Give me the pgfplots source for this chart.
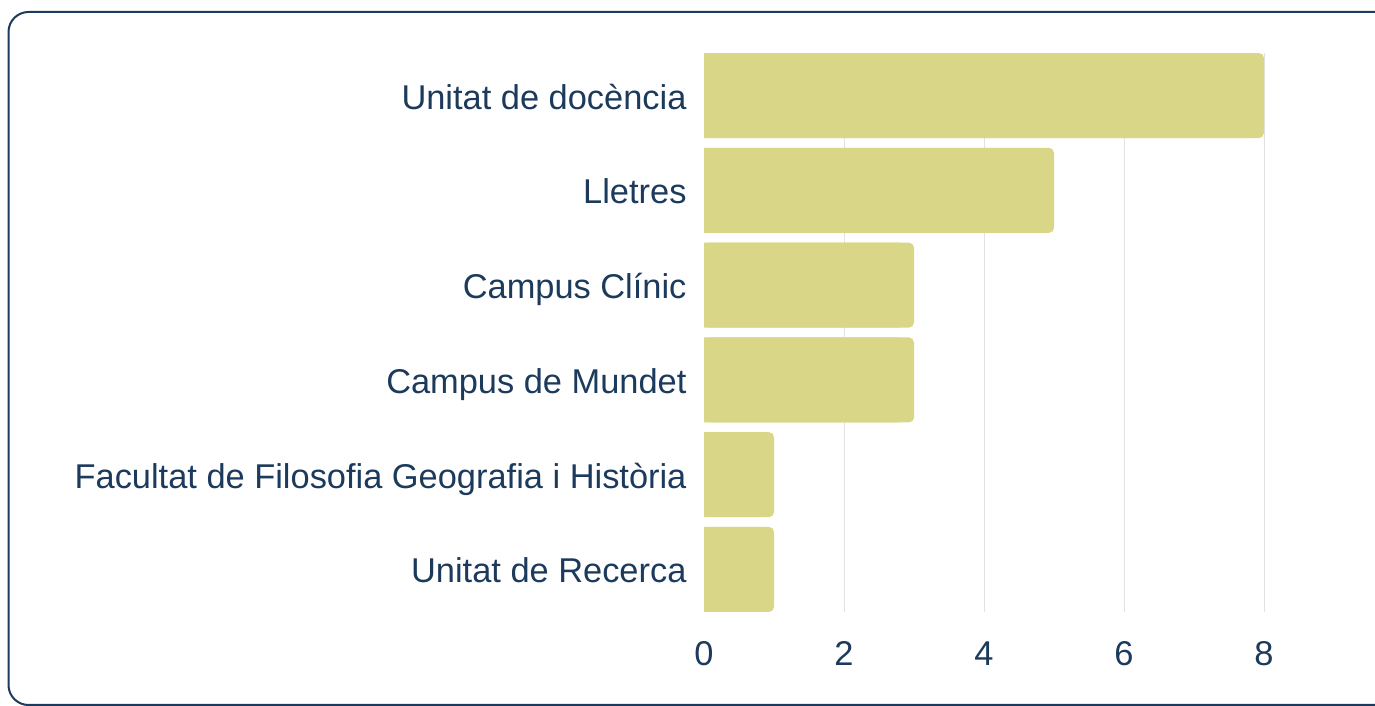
\documentclass[border=0pt]{standalone}
\usepackage{fontspec}
\setmainfont{Liberation Sans}
\usepackage{pgfplots}
\pgfplotsset{compat=1.18}
\usepackage{pgfplotstable}
\definecolor{barc}{RGB}{217,215,135}
\definecolor{navy}{RGB}{28,58,92}
\definecolor{gridc}{RGB}{226,226,226}
\pgfplotstableread{
y v
0 8
1 5
2 3
3 3
4 1
5 1
}\datatab
\begin{document}
\begin{tikzpicture}[x=1pt,y=1pt]
\useasboundingbox (0,0) rectangle (1375,706);
\clip (0,0) rectangle (1375,706);
\draw[navy, line width=2pt, rounded corners=20pt] (8.5,1) rectangle (1420,694);
\begin{axis}[
  at={(704pt,94pt)}, anchor=south west,
  scale only axis, width=560pt, height=559pt,
  xmin=0, xmax=8, ymin=-0.449, ymax=5.449, y dir=reverse,
  axis line style={draw=none},
  major tick length=0pt,
  xtick={2,4,6,8},
  extra x ticks={0},
  extra x tick style={grid=none},
  xmajorgrids,
  grid style={gridc, line width=1pt},
  ytick={0,1,2,3,4,5},
  yticklabels={Unitat de docència, Lletres, Campus Clínic, Campus de Mundet, Facultat de Filosofia Geografia i Història, Unitat de Recerca},
  /pgf/number format/assume math mode=true,
  ticklabel style={font=\fontsize{34.4}{40}\selectfont, text=navy, text height=27pt, text depth=0pt},
  xticklabel style={yshift=-23pt},
  yticklabel style={xshift=-14pt},
  clip=false,
]
\addplot[xbar, bar width=85pt, bar shift=0pt, fill=barc, draw=none, rounded corners=5pt] table[x=v,y=y]{\datatab};
\addplot[xbar, bar width=85pt, bar shift=0pt, fill=barc, draw=none] table[x expr=\thisrow{v}-0.2,y=y]{\datatab};
\end{axis}
\end{tikzpicture}
\end{document}
